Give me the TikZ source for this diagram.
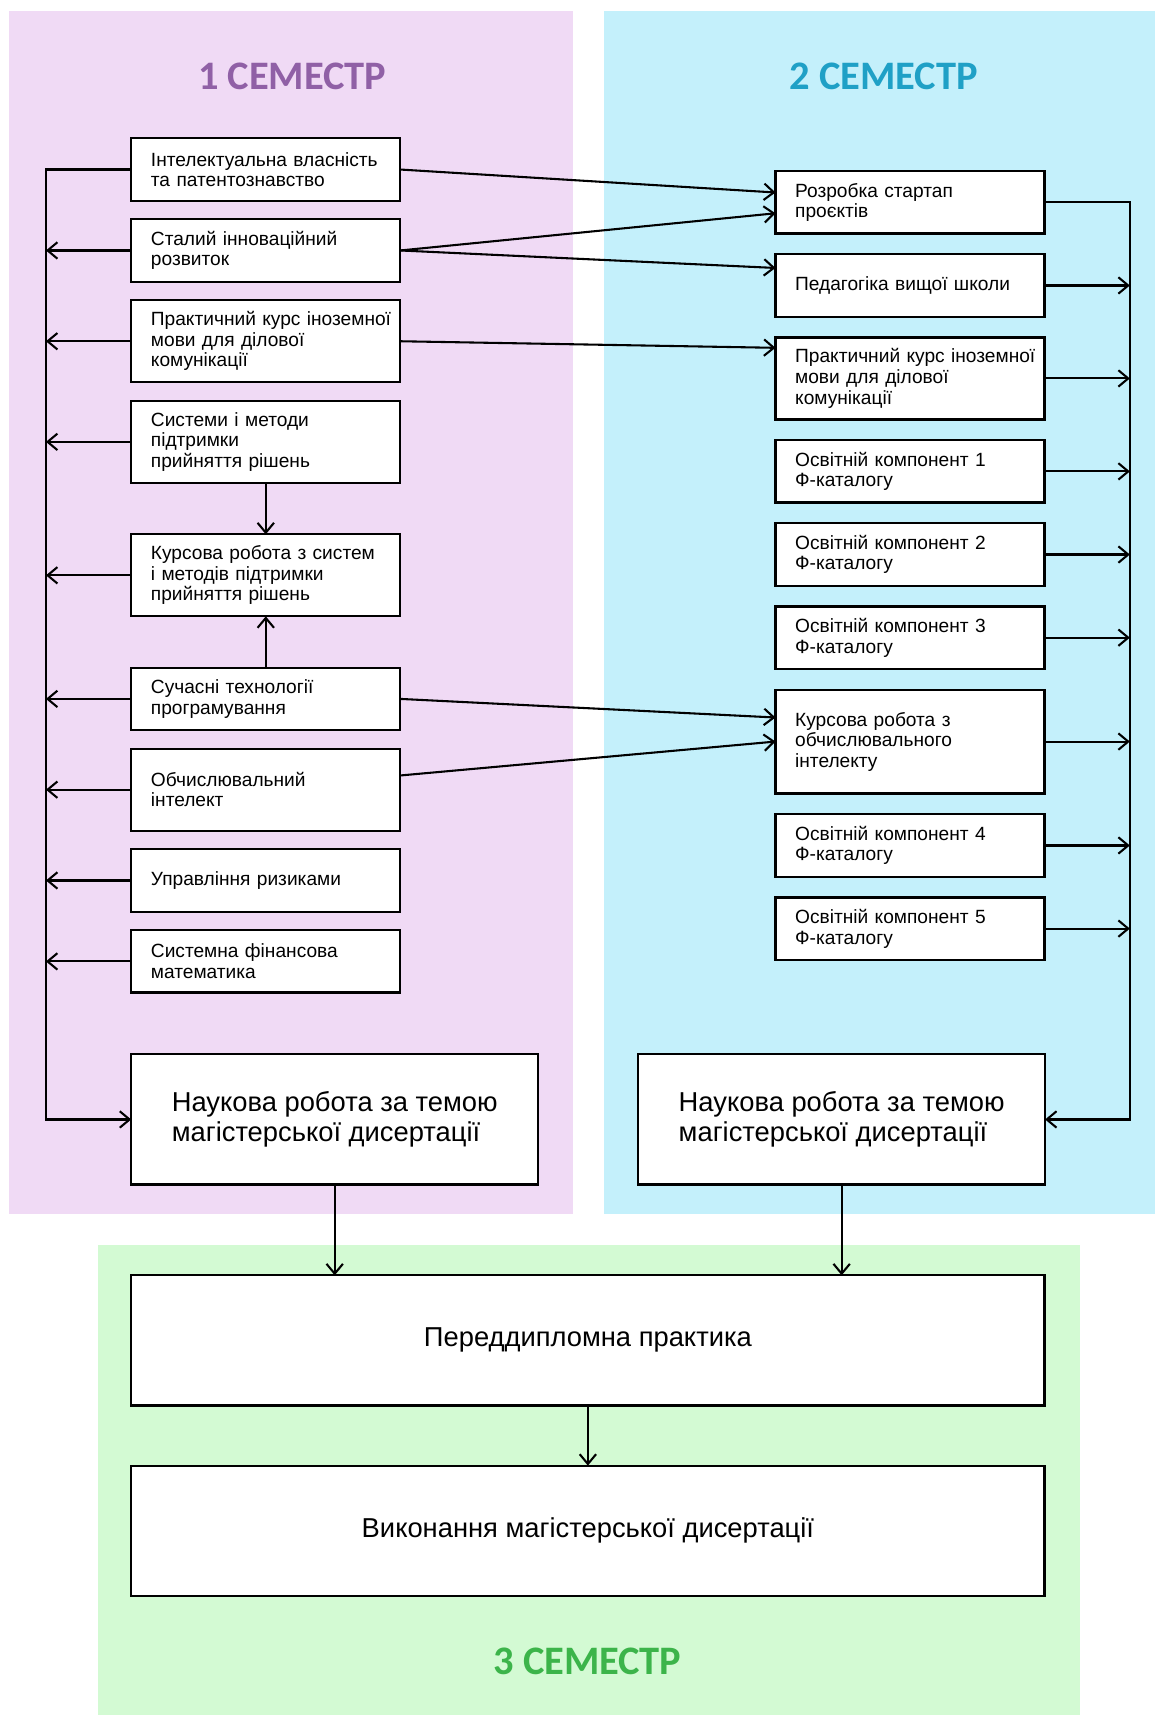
\documentclass[tikz,border=0pt]{standalone}
\usepackage{fontspec}
\setmainfont{Liberation Sans}
\newfontfamily\semfont{Carlito}
\usetikzlibrary{positioning,arrows.meta}

\definecolor{sem1}{HTML}{F0DAF5}
\definecolor{sem2}{HTML}{C4F0FB}
\definecolor{sem3}{HTML}{D3FAD3}
\definecolor{sem1t}{HTML}{9060A6}
\definecolor{sem2t}{HTML}{1FA0C6}
\definecolor{sem3t}{HTML}{3CB44A}

\tikzset{
  course/.style={draw, fill=white, line width=2pt, outer sep=0pt,
    text width=210pt, inner xsep=18pt, align=left, minimum height=57pt,
    font=\fontsize{17.5}{18.8}\selectfont},
  course3/.style={course, minimum height=75pt},
  thesis/.style={draw, fill=white, line width=2pt, outer sep=0pt,
    align=left, minimum width=372pt, minimum height=119pt,
    font=\fontsize{25}{28}\selectfont},
  stage/.style={thesis, align=center, minimum width=835pt},
  semtitle/.style={inner sep=0pt, font=\semfont\bfseries\fontsize{37}{42}\selectfont}
}

\begin{document}
\begin{tikzpicture}[x=1pt, y=-1pt, line width=1.9pt,
  >={Straight Barb[length=9pt,width=15pt]}]
\useasboundingbox (0,0) rectangle (1056,1568);

\fill[sem1] (8,10) rectangle (524,1110);
\fill[sem2] (552,10) rectangle (1056,1110);
\fill[sem3] (90,1138) rectangle (987,1568);

\node[semtitle, text=sem1t] (t1) at (267,70) {1 СЕМЕСТР};
\node[semtitle, text=sem2t] (t2) at (808,70) {2 СЕМЕСТР};
\node[semtitle, text=sem3t] (t3) at (537,1519) {3 СЕМЕСТР};

\node[course] (l1) at (243,155) {Інтелектуальна власність\\та патентознавство};
\node[course, below=17pt of l1] (l2) {Сталий інноваційний\\розвиток};
\node[course3, below=17pt of l2] (l3) {Практичний~курс~іноземної\\мови для ділової\\комунікації};
\node[course3, below=17pt of l3] (l4) {Системи і методи\\підтримки\\прийняття рішень};
\node[course3, below=47pt of l4] (l5) {Курсова~робота~з~систем\\і методів підтримки\\прийняття рішень};
\node[course, below=47pt of l5] (l6) {Сучасні технології\\програмування};
\node[course3, below=17pt of l6] (l7) {Обчислювальний\\інтелект};
\node[course, below=17pt of l7] (l8) {Управління ризиками};
\node[course, below=17pt of l8] (l9) {Системна фінансова\\математика};

\node[course] (r1) at (832,185) {Розробка стартап\\проєктів};
\node[course, below=19pt of r1] (r2) {Педагогіка вищої школи};
\node[course3, below=19pt of r2] (r3) {Практичний~курс~іноземної\\мови для ділової\\комунікації};
\node[course, below=19pt of r3] (r4) {Освітній компонент 1\\Ф-каталогу};
\node[course, below=19pt of r4] (r5) {Освітній компонент 2\\Ф-каталогу};
\node[course, below=19pt of r5] (r6) {Освітній компонент 3\\Ф-каталогу};
\node[course3, minimum height=95pt, below=19pt of r6] (r7) {Курсова робота з\\обчислювального\\інтелекту};
\node[course, below=19pt of r7] (r8) {Освітній компонент 4\\Ф-каталогу};
\node[course, below=19pt of r8] (r9) {Освітній компонент 5\\Ф-каталогу};

\node[thesis] (nl) at (306,1023.5) {Наукова робота за темою\\магістерської дисертації};
\node[thesis] (nr) at (769.5,1023.5) {Наукова робота за темою\\магістерської дисертації};
\node[stage] (prak) at (537.5,1225.5) {Переддипломна практика};
\node[stage, below=55pt of prak] (dys) {Виконання магістерської дисертації};

\coordinate (lb) at ([xshift=-78pt]l1.west);
\coordinate (rb) at ([xshift=78pt]r1.east);

\draw[->] (l1.west) -- (lb) |- (nl.west);
\foreach \n in {2,...,9}
  \draw[->] (l\n.west) -- (l\n.west -| lb);
\draw[->] (r1.east) -- (rb) |- (nr.east);
\foreach \n in {2,...,9}
  \draw[->] (r\n.east) -- (r\n.east -| rb);

\draw[->] (l1.east) -- ([yshift=9pt]r1.west);
\draw[->] (l2.east) -- ([yshift=-10pt]r1.west);
\draw[->] (l2.east) -- ([yshift=16pt]r2.west);
\draw[->] (l3.east) -- ([yshift=28pt]r3.west);
\draw[->] (l6.east) -- ([yshift=22pt]r7.west);
\draw[->] ([yshift=13pt]l7.east) -- (r7.west);
\draw[->] (l4) -- (l5);
\draw[->] (l6) -- (l5);

\draw[->] (nl.south) -- (nl.south |- prak.north);
\draw[->] (nr.south) -- (nr.south |- prak.north);
\draw[->] (prak) -- (dys);
\end{tikzpicture}
\end{document}
